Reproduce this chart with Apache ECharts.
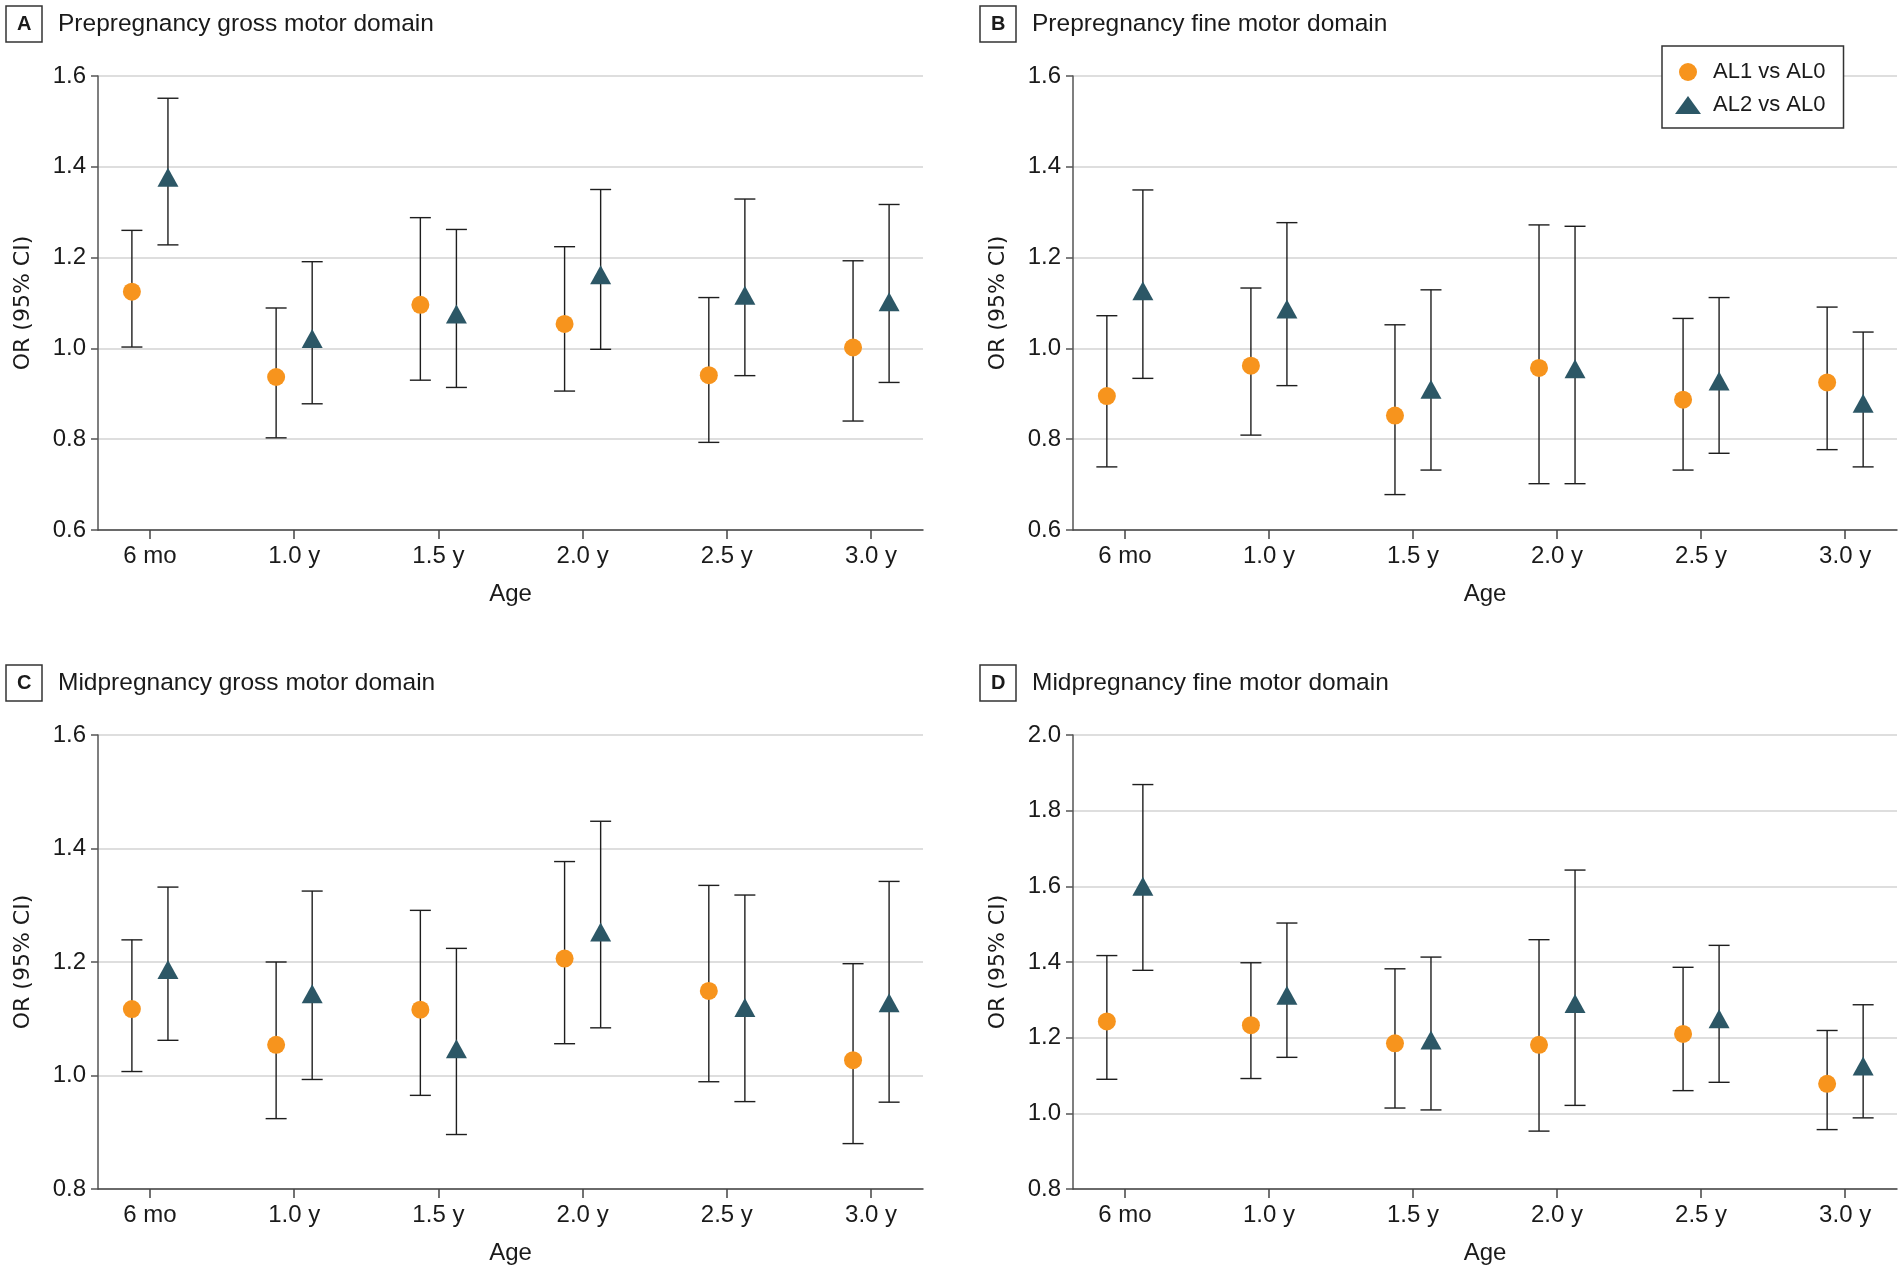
<!DOCTYPE html>
<html>
<head>
<meta charset="utf-8">
<script src="https://cdn.jsdelivr.net/npm/echarts@6/dist/echarts.min.js"></script>
<style>
html,body{margin:0;padding:0;background:#fff;}
#chart{width:1901px;height:1273px;}
</style>
</head>
<body>
<div id="chart"></div>
<script>
// ---------- data ----------
var ageLabels = ['6 mo', '1.0 y', '1.5 y', '2.0 y', '2.5 y', '3.0 y'];
var seriesNames = ['AL1 vs AL0', 'AL2 vs AL0'];
var panelLetters = ['A', 'B', 'C', 'D'];
var panelTitles = ['Prepregnancy gross motor domain', 'Prepregnancy fine motor domain',
                   'Midpregnancy gross motor domain', 'Midpregnancy fine motor domain'];
var yMins = [0.6, 0.6, 0.8, 0.8];
var yMaxs = [1.6, 1.6, 1.6, 2.0];

// Panel A: prepregnancy gross motor
var aAL1 = [1.125, 0.937, 1.096, 1.054, 0.941, 1.002];
var aAL1lo = [1.003, 0.803, 0.930, 0.906, 0.793, 0.840];
var aAL1hi = [1.260, 1.089, 1.288, 1.224, 1.112, 1.193];
var aAL2 = [1.377, 1.022, 1.076, 1.162, 1.117, 1.103];
var aAL2lo = [1.228, 0.878, 0.914, 0.998, 0.940, 0.925];
var aAL2hi = [1.551, 1.191, 1.262, 1.350, 1.329, 1.317];
// Panel B: prepregnancy fine motor
var bAL1 = [0.895, 0.962, 0.852, 0.957, 0.887, 0.925];
var bAL1lo = [0.739, 0.809, 0.678, 0.702, 0.732, 0.777];
var bAL1hi = [1.072, 1.133, 1.052, 1.272, 1.066, 1.091];
var bAL2 = [1.127, 1.087, 0.910, 0.955, 0.928, 0.879];
var bAL2lo = [0.934, 0.918, 0.732, 0.702, 0.769, 0.739];
var bAL2hi = [1.349, 1.277, 1.129, 1.269, 1.112, 1.036];
// Panel C: midpregnancy gross motor
var cAL1 = [1.117, 1.054, 1.116, 1.206, 1.149, 1.027];
var cAL1lo = [1.007, 0.924, 0.965, 1.056, 0.989, 0.880];
var cAL1hi = [1.239, 1.200, 1.291, 1.377, 1.335, 1.197];
var cAL2 = [1.187, 1.144, 1.047, 1.253, 1.120, 1.128];
var cAL2lo = [1.062, 0.993, 0.896, 1.084, 0.954, 0.953];
var cAL2hi = [1.332, 1.325, 1.224, 1.448, 1.318, 1.342];
// Panel D: midpregnancy fine motor
var dAL1 = [1.243, 1.233, 1.185, 1.181, 1.210, 1.078];
var dAL1lo = [1.090, 1.092, 1.014, 0.953, 1.060, 0.957];
var dAL1hi = [1.417, 1.398, 1.382, 1.459, 1.386, 1.219];
var dAL2 = [1.600, 1.312, 1.194, 1.290, 1.250, 1.125];
var dAL2lo = [1.378, 1.148, 1.009, 1.021, 1.082, 0.988];
var dAL2hi = [1.869, 1.503, 1.413, 1.643, 1.444, 1.287];

var panels = [
  [[aAL1, aAL1lo, aAL1hi], [aAL2, aAL2lo, aAL2hi]],
  [[bAL1, bAL1lo, bAL1hi], [bAL2, bAL2lo, bAL2hi]],
  [[cAL1, cAL1lo, cAL1hi], [cAL2, cAL2lo, cAL2hi]],
  [[dAL1, dAL1lo, dAL1hi], [dAL2, dAL2lo, dAL2hi]]
];

// ---------- styles / layout ----------
var FONT = "'Liberation Sans', Arial, sans-serif";
var colors = ['#F7941D', '#2C5766'];
var symbols = ['circle', 'triangle'];
var symbolSizes = [18, [21, 19]];
var dodge = 0.125;
var gridBoxes = [
  {left: 98, top: 76, width: 825, height: 454},
  {left: 1073, top: 76, width: 824, height: 454},
  {left: 98, top: 735, width: 825, height: 454},
  {left: 1073, top: 735, width: 824, height: 454}
];
var titleTops = [24, 24, 683, 683];
var titleLefts = [6, 980, 6, 980];

var chart = echarts.init(document.getElementById('chart'), null, {renderer: 'canvas'});

var grids = [], xAxes = [], yAxes = [], series = [], titles = [];
var tickIdx = ageLabels.map(function (_, i) { return i; });

panels.forEach(function (panel, p) {
  grids.push(Object.assign({containLabel: false}, gridBoxes[p]));
  xAxes.push({
    type: 'value', gridIndex: p, min: -0.36, max: 5.36,
    name: 'Age', nameLocation: 'middle', nameGap: 52,
    nameTextStyle: {fontFamily: FONT, fontSize: 24, color: '#1a1a1a'},
    axisLine: {show: true, onZero: false, lineStyle: {color: '#444', width: 1.5}},
    axisTick: {show: true, customValues: tickIdx, length: 9, lineStyle: {color: '#444', width: 1.5}},
    axisLabel: {customValues: tickIdx, margin: 14, fontFamily: FONT, fontSize: 24, color: '#1a1a1a',
      formatter: function (v) { return ageLabels[Math.round(v)]; }},
    splitLine: {show: false}
  });
  yAxes.push({
    type: 'value', gridIndex: p, min: yMins[p], max: yMaxs[p], interval: 0.2,
    name: 'OR (95% CI)', nameLocation: 'middle', nameGap: 64, nameRotate: 90,
    nameTextStyle: {fontFamily: "'DejaVu Sans', sans-serif", fontSize: 22, color: '#1a1a1a'},
    axisLine: {show: true, onZero: false, lineStyle: {color: '#555', width: 1.5}},
    axisTick: {show: true, length: 7, lineStyle: {color: '#555', width: 1.5}},
    axisLabel: {margin: 12, fontFamily: FONT, fontSize: 24, color: '#1a1a1a',
      formatter: function (v) { return v.toFixed(1); }},
    splitLine: {show: true, lineStyle: {color: '#dedede', width: 2}}
  });
  titles.push({
    text: panelLetters[p], left: titleLefts[p], top: titleTops[p] - 18,
    padding: [7, 11], borderWidth: 1.5, borderColor: '#333',
    textStyle: {fontFamily: FONT, fontSize: 20, fontWeight: 'bold', color: '#1a1a1a', lineHeight: 22}
  });
  titles.push({
    text: panelTitles[p], left: titleLefts[p] + 52, top: titleTops[p] - 14, padding: 0,
    textStyle: {fontFamily: FONT, fontSize: 24.5, fontWeight: 'normal', color: '#1a1a1a', lineHeight: 28}
  });

  panel.forEach(function (s, k) {
    var off = k === 0 ? -dodge : dodge;
    var ors = s[0], los = s[1], his = s[2];
    var barData = ors.map(function (_, i) { return [i + off, los[i], his[i]]; });
    series.push({
      type: 'custom', xAxisIndex: p, yAxisIndex: p, z: 1, silent: true,
      data: barData,
      renderItem: function (params, api) {
        var x = api.value(0);
        var lo = api.coord([x, api.value(1)]);
        var hi = api.coord([x, api.value(2)]);
        var hw = 10.5;
        var st = {stroke: '#1e1e1e', lineWidth: 1.4};
        return {type: 'group', children: [
          {type: 'line', shape: {x1: lo[0], y1: lo[1], x2: hi[0], y2: hi[1]}, style: st},
          {type: 'line', shape: {x1: lo[0] - hw, y1: lo[1], x2: lo[0] + hw, y2: lo[1]}, style: st},
          {type: 'line', shape: {x1: hi[0] - hw, y1: hi[1], x2: hi[0] + hw, y2: hi[1]}, style: st}
        ]};
      }
    });
    series.push({
      type: 'scatter', name: seriesNames[k], xAxisIndex: p, yAxisIndex: p, z: 3,
      symbol: symbols[k], symbolSize: symbolSizes[k],
      itemStyle: {color: colors[k], opacity: 1},
      data: ors.map(function (v, i) { return [i + off, v]; })
    });
  });
});

chart.setOption({
  animation: false,
  backgroundColor: '#fff',
  title: titles,
  grid: grids,
  xAxis: xAxes,
  yAxis: yAxes,
  legend: {
    data: seriesNames, orient: 'vertical', left: 1662, top: 46,
    padding: [15, 18, 12, 13], itemGap: 11, itemWidth: 26, itemHeight: 18,
    borderColor: '#333', borderWidth: 1.5, backgroundColor: '#fff',
    selectedMode: false,
    textStyle: {fontFamily: FONT, fontSize: 22, color: '#1a1a1a', lineHeight: 18, padding: [0, 0, 0, 7]}
  },
  series: series
});
</script>
</body>
</html>
